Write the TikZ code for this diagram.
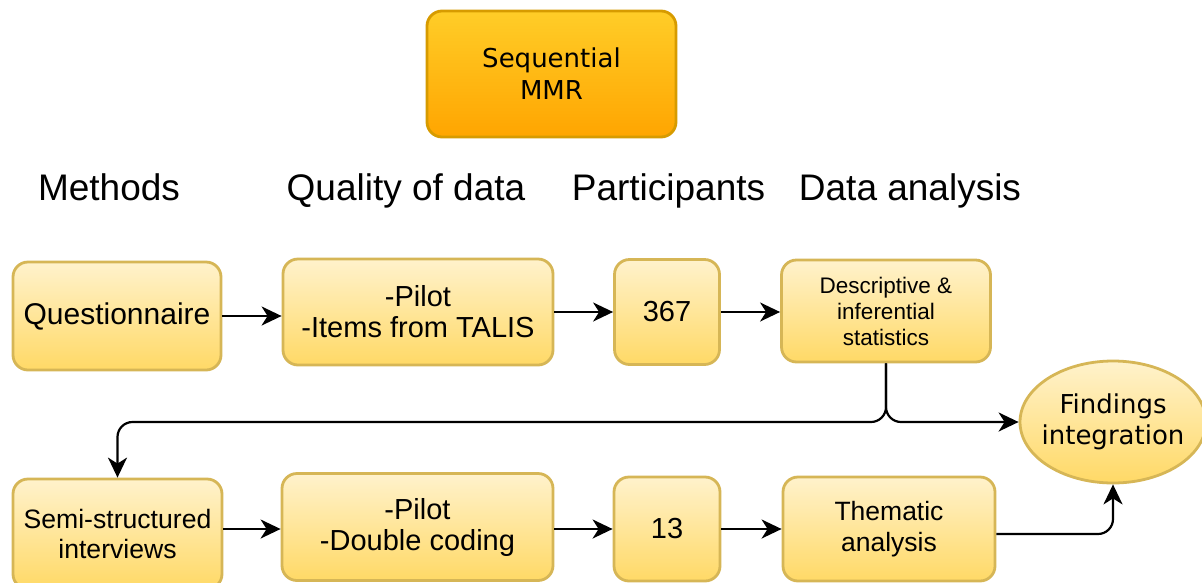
\documentclass[tikz,border=0pt]{standalone}
\usepackage{fontspec}
\setmainfont{Liberation Sans}
\newfontfamily\dejavu{DejaVu Sans}
\usetikzlibrary{arrows.meta,shapes.geometric}
\definecolor{ytop}{HTML}{FFF2CC}
\definecolor{ybot}{HTML}{FFD966}
\definecolor{yline}{HTML}{D6B656}
\definecolor{otop}{HTML}{FFCD28}
\definecolor{obot}{HTML}{FFA500}
\definecolor{oline}{HTML}{D79B00}
\tikzset{
  ybox/.style={draw=yline, line width=2.8pt, rounded corners=15pt, top color=ytop, bottom color=ybot, align=center, inner sep=0pt, text=black},
  mmrbox/.style={draw=oline, line width=2.8pt, rounded corners=15pt, top color=otop, bottom color=obot, align=center, inner sep=0pt, text=black},
  ell/.style={ellipse, draw=yline, line width=2.8pt, top color=ytop, bottom color=ybot, inner sep=0pt},
  conn/.style={line width=2.2pt, -{Stealth[length=20pt,width=19pt,inset=6pt]}},
  hdr/.style={font=\fontsize{37}{40}\selectfont, anchor=base, inner sep=0pt},
}
\begin{document}
\begin{tikzpicture}[x=1pt,y=-1pt]
\clip (0,0) rectangle (1202,582);
\fill[white] (0,0) rectangle (1202,582);

\node[mmrbox, minimum width=249pt, minimum height=126pt, font=\dejavu\fontsize{26}{32}\selectfont] (mmr) at (551.5,74) {Sequential\\MMR};

\node[hdr] (h1) at (109,200) {Methods};
\node[hdr] (h2) at (406,200) {Quality of data};
\node[hdr] (h3) at (668.5,200) {Participants};
\node[hdr] (h4) at (910,200) {Data analysis};

\node[ybox, minimum width=208pt, minimum height=108pt, font=\fontsize{30}{34}\selectfont] (q) at (117,316) {Questionnaire};
\node[ybox, minimum width=270pt, minimum height=106pt, font=\fontsize{29}{31}\selectfont] (p1) at (418,312) {-Pilot\\-Items from TALIS};
\node[ybox, minimum width=105pt, minimum height=105pt, font=\fontsize{29}{31}\selectfont] (n1) at (667,312) {367};
\node[ybox, minimum width=209pt, minimum height=102pt, font=\fontsize{22.5}{26}\selectfont] (d) at (886,311) {Descriptive \&\\inferential\\statistics};

\node[ybox, minimum width=209pt, minimum height=110pt, font=\fontsize{26.6}{30}\selectfont] (semi) at (117.5,534) {Semi-structured\\interviews};
\node[ybox, minimum width=271pt, minimum height=107pt, font=\fontsize{29}{31}\selectfont] (p2) at (417.5,527) {-Pilot\\-Double coding};
\node[ybox, minimum width=106pt, minimum height=104pt, font=\fontsize{29}{31}\selectfont] (n2) at (667,529) {13};
\node[ybox, minimum width=212pt, minimum height=104pt, font=\fontsize{26.5}{31}\selectfont] (t) at (889,529) {Thematic\\analysis};
\node[ell, minimum width=186pt, minimum height=122pt] (f) at (1113,422) {};
\node[align=center, inner sep=0pt, font=\dejavu\fontsize{26}{31}\selectfont] (ftext) at (f.center) {Findings\\integration};

\draw[conn] (q.east) -- (q.east -| p1.west);
\draw[conn] (p1.east) -- (p1.east -| n1.west);
\draw[conn] (n1.east) -- (n1.east -| d.west);
\draw[conn, rounded corners=15pt] (d.south) -- (d.south |- f.west) -- (f.west);
\draw[conn, rounded corners=15pt] (d.south) -- (d.south |- f.west) -| (semi.north);
\draw[conn] (semi.east |- n2.west) -- (n2.west -| p2.west);
\draw[conn] (p2.east |- n2.west) -- (n2.west);
\draw[conn] (n2.east) -- (n2.east -| t.west);
\draw[conn, rounded corners=15pt] (t.east |- 0,534) -| (f.south);
\end{tikzpicture}
\end{document}
